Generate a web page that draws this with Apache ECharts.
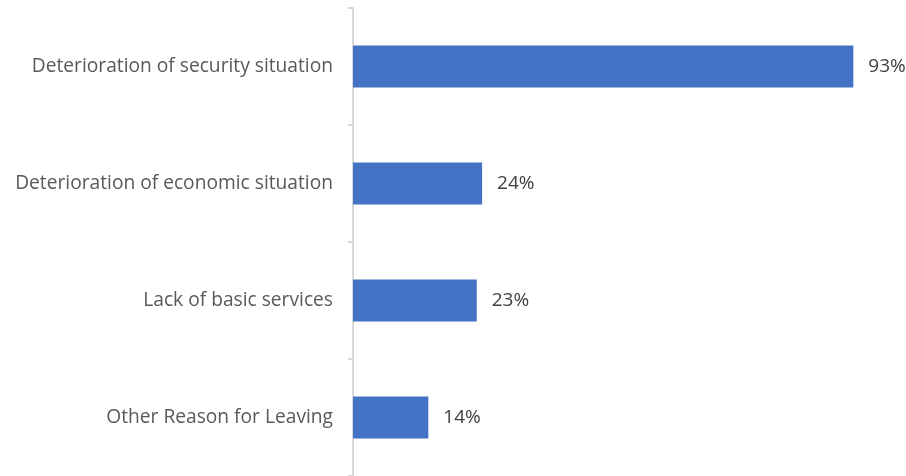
<!DOCTYPE html>
<html>
<head>
<meta charset="utf-8">
<script src="https://cdn.jsdelivr.net/npm/echarts@6/dist/echarts.min.js"></script>
<style>
  html, body { margin: 0; padding: 0; background: #ffffff; }
  #chart { width: 906px; height: 476px; }
</style>
</head>
<body>
<div id="chart"></div>
<script>
// Reasons for leaving, share of respondents (%)
const categories = [
  'Deterioration of security situation',
  'Deterioration of economic situation',
  'Lack of basic services',
  'Other Reason for Leaving'
];
const values = [93, 24, 23, 14];

const chart = echarts.init(document.getElementById('chart'), null, { renderer: 'canvas' });

chart.setOption({
  animation: false,
  backgroundColor: '#ffffff',
  grid: { left: 353, right: 15, top: 8, bottom: -3, containLabel: false },
  xAxis: {
    type: 'value',
    min: 0,
    max: 100,
    show: false
  },
  yAxis: {
    type: 'category',
    data: categories,
    inverse: true,
    axisLine: { show: true, lineStyle: { color: '#d9d9d9', width: 2 } },
    axisTick: { show: true, length: 5, lineStyle: { color: '#d9d9d9', width: 2 } },
    axisLabel: {
      color: '#595959',
      fontFamily: 'Open Sans, sans-serif',
      fontSize: 19.2,
      margin: 20
    },
    splitLine: { show: false }
  },
  series: [{
    type: 'bar',
    data: values,
    barWidth: 42,
    itemStyle: { color: '#4472c4' },
    label: {
      show: true,
      position: 'right',
      distance: 15,
      color: '#404040',
      fontFamily: 'Open Sans, sans-serif',
      fontSize: 19,
      formatter: p => p.value + '%'
    }
  }]
});
</script>
</body>
</html>
